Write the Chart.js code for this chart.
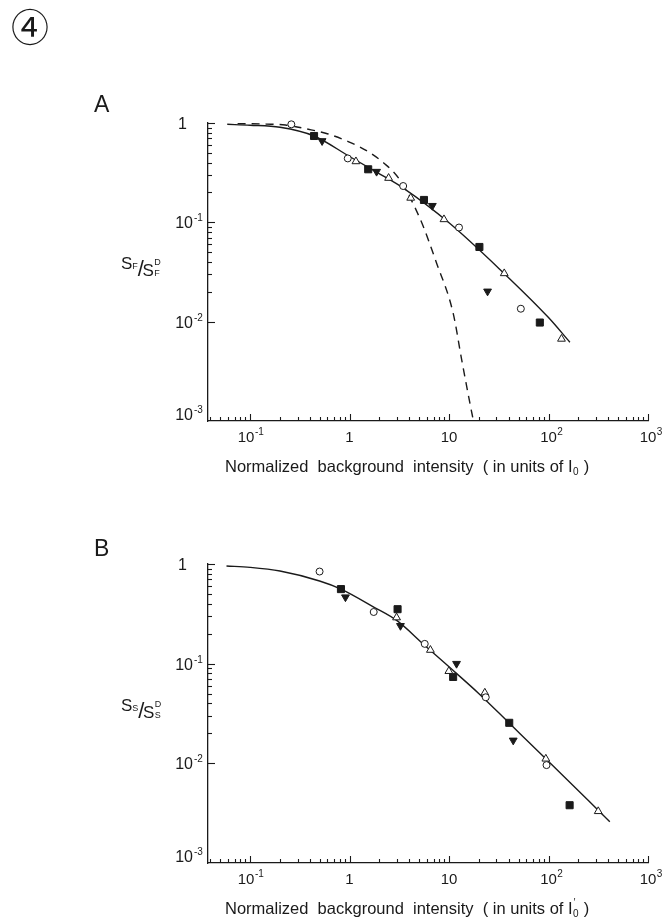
<!DOCTYPE html>
<html>
<head>
<meta charset="utf-8">
<title>Background adaptation</title>
<script src="https://cdn.jsdelivr.net/npm/chart.js@4.4.1/dist/chart.umd.min.js"></script>
<style>
  html, body { margin: 0; padding: 0; background: #fff; }
  #wrap { position: relative; width: 667px; height: 920px; background: #fff; }
  canvas { position: absolute; left: 0; top: 0; }
</style>
</head>
<body>
<div id="wrap">
  <canvas id="chartA" width="667" height="920"></canvas>
  <canvas id="chartB" width="667" height="920"></canvas>
</div>
<script>
// axis ranges (both panels)
const X_MIN = 0.0378, X_MAX = 1000;
const Y_MIN = 0.001, Y_MAX = 1;

// tick labels
const xTickVals = [0.1, 1, 10, 100, 1000];
const xTickBase = ['10', '1', '10', '10', '10'];
const xTickExp = ['-1', '', '', '2', '3'];
const yTickVals = [1, 0.1, 0.01, 0.001];
const yTickBase = ['1', '10', '10', '10'];
const yTickExp = ['', '-1', '-2', '-3'];

// panel A
const aCircleX = [0.26, 0.96, 3.46, 12.6, 52.7];
const aCircleY = [0.97, 0.44, 0.232, 0.0887, 0.0135];
const aTriX = [1.16, 2.47, 4.12, 8.9, 35.9, 135];
const aTriY = [0.41, 0.279, 0.176, 0.107, 0.0306, 0.0067];
const aSquareX = [0.44, 1.54, 5.6, 20.2, 81.8];
const aSquareY = [0.74, 0.342, 0.168, 0.0565, 0.0098];
const aDownX = [0.53, 1.87, 6.8, 24.4];
const aDownY = [0.66, 0.324, 0.147, 0.0202];
const aFitX = [0.059, 0.1, 0.2, 0.44, 1, 1.87, 3.5, 10, 33.5, 100, 164];
const aFitY = [0.97, 0.95, 0.905, 0.74, 0.46, 0.32, 0.22, 0.099, 0.0326, 0.011, 0.0062];
const aExpX = [0.075, 0.147, 0.227, 0.385, 0.61, 0.97, 1.54, 2.22, 3.14, 5.09, 7.49, 11.0, 13.4, 16.2, 17.6];
const aExpY = [0.985, 0.975, 0.955, 0.865, 0.775, 0.65, 0.515, 0.394, 0.275, 0.11, 0.039, 0.0122, 0.00415, 0.00152, 0.001];

// panel B
const bCircleX = [0.5, 1.75, 5.7, 23.4, 95.5];
const bCircleY = [0.84, 0.33, 0.158, 0.046, 0.0096];
const bTriX = [2.97, 6.5, 9.96, 22.9, 94, 316];
const bTriY = [0.29, 0.137, 0.084, 0.051, 0.0111, 0.0033];
const bSquareX = [0.82, 3.04, 11, 40.3, 163];
const bSquareY = [0.56, 0.352, 0.0736, 0.0255, 0.0038];
const bDownX = [0.91, 3.25, 11.9, 44.2];
const bDownY = [0.465, 0.24, 0.1, 0.017];
const bFitX = [0.058, 0.1, 0.2, 0.5, 0.82, 1.75, 3.0, 5.6, 10, 20, 40, 95, 413];
const bFitY = [0.955, 0.925, 0.85, 0.675, 0.56, 0.37, 0.27, 0.155, 0.093, 0.05, 0.0255, 0.011, 0.0026];

const INK = '#1a1a1a';
const FONT = '"Liberation Sans", Arial, Helvetica, sans-serif';

function pts(xs, ys) {
  return xs.map((x, i) => ({ x: x, y: ys[i] }));
}

function markerSet(xs, ys, style, filled, radius, rotation) {
  return {
    data: pts(xs, ys),
    pointStyle: style,
    pointRadius: radius,
    pointRotation: rotation || 0,
    pointBackgroundColor: filled ? INK : '#fff',
    pointBorderColor: INK,
    pointBorderWidth: 1,
    showLine: false,
    clip: false,
    order: 0
  };
}

function lineSet(xs, ys, dash) {
  return {
    data: pts(xs, ys),
    showLine: true,
    borderColor: INK,
    borderWidth: 1.4,
    borderDash: dash || [],
    pointRadius: 0,
    cubicInterpolationMode: 'monotone',
    fill: false,
    order: 1
  };
}

// draws inward ticks, tick labels with exponents, axis titles and panel letters
const paperAxes = {
  id: 'paperAxes',
  afterDraw(chart, args, opts) {
    const ctx = chart.ctx;
    const xs = chart.scales.x, ys = chart.scales.y;
    const area = chart.chartArea;
    ctx.save();
    ctx.strokeStyle = INK;
    ctx.fillStyle = INK;
    ctx.lineWidth = 1.1;

    for (let e = -2; e <= 3; e++) {
      for (let m = 1; m <= 9; m++) {
        const v = m * Math.pow(10, e);
        if (v >= X_MIN && v <= X_MAX * 1.001) {
          const px = Math.round(xs.getPixelForValue(v)) + 0.5;
          ctx.beginPath();
          ctx.moveTo(px, area.bottom);
          ctx.lineTo(px, area.bottom - (m === 1 ? 7 : 4));
          ctx.stroke();
        }
        if (v >= Y_MIN * 0.999 && v <= Y_MAX * 1.001) {
          const py = Math.round(ys.getPixelForValue(v)) + 0.5;
          ctx.beginPath();
          ctx.moveTo(area.left, py);
          ctx.lineTo(area.left + (m === 1 ? 7 : 4), py);
          ctx.stroke();
        }
      }
    }

    // x tick labels
    ctx.textBaseline = 'alphabetic';
    ctx.textAlign = 'left';
    xTickVals.forEach((v, i) => {
      const px = xs.getPixelForValue(v);
      const base = xTickBase[i], ex = xTickExp[i];
      const yb = area.bottom + 21;
      ctx.font = '15px ' + FONT;
      const bw = ctx.measureText(base).width;
      let left = px - bw / 2;
      if (ex.startsWith('-')) left -= 4;
      ctx.fillText(base, left, yb);
      if (ex) {
        ctx.font = '10px ' + FONT;
        ctx.fillText(ex, left + bw + 0.5, yb - 7);
      }
    });

    // y tick labels
    yTickVals.forEach((v, i) => {
      const py = ys.getPixelForValue(v);
      const base = yTickBase[i], ex = yTickExp[i];
      const yb = (v === Y_MIN) ? py - 1 : py + 6;
      ctx.font = '16px ' + FONT;
      if (!ex) {
        ctx.textAlign = 'right';
        ctx.fillText(base, area.left - 21, yb);
      } else {
        ctx.textAlign = 'right';
        ctx.fillText(base, area.left - 15, yb);
        ctx.textAlign = 'left';
        ctx.font = '10px ' + FONT;
        ctx.fillText(ex, area.left - 14, yb - 7);
      }
    });

    // x axis title
    ctx.textAlign = 'left';
    let tx = 225;
    const ty = area.bottom + 51;
    ctx.font = '16.5px ' + FONT;
    const main = 'Normalized  background  intensity  ( in units of I';
    ctx.fillText(main, tx, ty);
    tx += ctx.measureText(main).width;
    if (opts.prime) {
      ctx.font = '10px ' + FONT;
      ctx.fillText('\u2032', tx + 1, ty - 8);
    }
    ctx.font = '10px ' + FONT;
    ctx.fillText('0', tx + 0.5, ty + 3);
    tx += ctx.measureText('0').width + 1;
    ctx.font = '16.5px ' + FONT;
    ctx.fillText(' )', tx, ty);

    // y axis title  S_x / S_x^D
    const cy = (area.top + area.bottom) / 2 - 1;
    let lx = 121;
    ctx.font = '17px ' + FONT;
    ctx.fillText('S', lx, cy - 2);
    lx += ctx.measureText('S').width;
    ctx.font = '9px ' + FONT;
    ctx.fillText(opts.sub, lx, cy - 2);
    lx += ctx.measureText(opts.sub).width;
    ctx.font = '22px ' + FONT;
    ctx.fillText('/', lx, cy + 5);
    lx += ctx.measureText('/').width - 1.5;
    ctx.font = '17px ' + FONT;
    ctx.fillText('S', lx, cy + 5);
    lx += ctx.measureText('S').width + 0.5;
    ctx.font = '9px ' + FONT;
    ctx.fillText('D', lx, cy - 6);
    ctx.fillText(opts.sub, lx, cy + 5);

    // panel letter
    ctx.font = '23px ' + FONT;
    ctx.fillText(opts.letter, 94, opts.letterY);

    if (opts.badge) {
      ctx.textAlign = 'center';
      ctx.textBaseline = 'middle';
      ctx.font = '38px "Noto Sans CJK JP", "DejaVu Sans", sans-serif';
      ctx.fillText(opts.badge, 30, 27);
    }
    ctx.restore();
  }
};

function makePanel(id, datasets, top, bottom, labelOpts) {
  return new Chart(document.getElementById(id), {
    type: 'scatter',
    data: { datasets: datasets },
    options: {
      responsive: false,
      animation: false,
      events: [],
      layout: { padding: { left: 208, right: 19, top: top, bottom: 920 - bottom } },
      scales: {
        x: {
          type: 'logarithmic', min: X_MIN, max: X_MAX,
          ticks: { display: false },
          grid: { display: false, drawTicks: false },
          border: { display: true, color: INK, width: 1.3 },
          afterFit(s) { s.height = 0; }
        },
        y: {
          type: 'logarithmic', min: Y_MIN, max: Y_MAX,
          ticks: { display: false },
          grid: { display: false, drawTicks: false },
          border: { display: true, color: INK, width: 1.3 },
          afterFit(s) { s.width = 0; }
        }
      },
      plugins: {
        legend: { display: false },
        tooltip: { enabled: false },
        paperAxes: labelOpts
      }
    },
    plugins: [paperAxes]
  });
}

makePanel('chartA', [
  markerSet(aCircleX, aCircleY, 'circle', false, 3.5),
  markerSet(aTriX, aTriY, 'triangle', false, 4.5),
  markerSet(aSquareX, aSquareY, 'rect', true, 5),
  markerSet(aDownX, aDownY, 'triangle', true, 4.5, 180),
  lineSet(aFitX, aFitY),
  lineSet(aExpX, aExpY, [8, 6])
], 123, 421, { letter: 'A', letterY: 112, sub: 'F', prime: false, badge: '\u2463' });

makePanel('chartB', [
  markerSet(bCircleX, bCircleY, 'circle', false, 3.5),
  markerSet(bTriX, bTriY, 'triangle', false, 4.5),
  markerSet(bSquareX, bSquareY, 'rect', true, 5),
  markerSet(bDownX, bDownY, 'triangle', true, 4.5, 180),
  lineSet(bFitX, bFitY)
], 564, 863, { letter: 'B', letterY: 556, sub: 'S', prime: true });
</script>
</body>
</html>
